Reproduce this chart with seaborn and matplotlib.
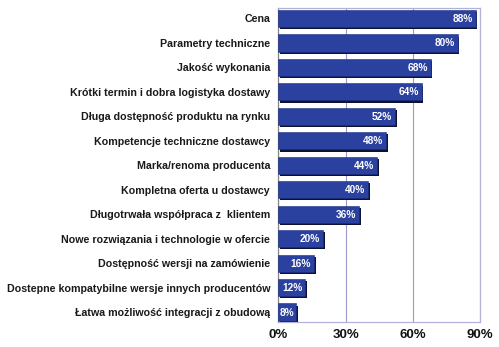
import matplotlib
matplotlib.use("Agg")
import matplotlib.pyplot as plt
import matplotlib.patheffects as pe
import seaborn as sns
import pandas as pd

categories = [
    "Cena",
    "Parametry techniczne",
    "Jakość wykonania",
    "Krótki termin i dobra logistyka dostawy",
    "Długa dostępność produktu na rynku",
    "Kompetencje techniczne dostawcy",
    "Marka/renoma producenta",
    "Kompletna oferta u dostawcy",
    "Długotrwała współpraca z  klientem",
    "Nowe rozwiązania i technologie w ofercie",
    "Dostępność wersji na zamówienie",
    "Dostepne kompatybilne wersje innych producentów",
    "Łatwa możliwość integracji z obudową",
]
values = [88, 80, 68, 64, 52, 48, 44, 40, 36, 20, 16, 12, 8]
x_ticks = [0, 30, 60, 90]
x_tick_labels = ["0%", "30%", "60%", "90%"]

df = pd.DataFrame({"kryterium": categories, "procent": values})

sns.set_theme(style="white")
plt.rcParams["font.family"] = ["Liberation Sans", "DejaVu Sans"]

fig = plt.figure(figsize=(4.99, 3.47), dpi=100)
ax = fig.add_axes([0.558, 0.072, 0.404, 0.905])

bar_color = "#2a41a0"
edge = "#b3b3d9"

sns.barplot(data=df, x="procent", y="kryterium", color=bar_color,
            saturation=1, width=0.7, ax=ax, zorder=3)

for p in ax.patches:
    p.set_edgecolor("#1c2d80")
    p.set_linewidth(0.4)
    p.set_path_effects([
        pe.SimplePatchShadow(offset=(1.2, -1.6), shadow_rgbFace="#0d1233", alpha=1.0),
        pe.Normal(),
    ])

for i, v in enumerate(values):
    if v < 10:
        ax.text(0.4, i + 0.05, f"{v}%", color="white", fontsize=7.3,
                fontweight="bold", ha="left", va="center", zorder=4)
    else:
        ax.text(v - 1.4, i + 0.02, f"{v}%", color="white", fontsize=7.3,
                fontweight="bold", ha="right", va="center", zorder=4)

ax.set_xlim(0, 90)
ax.set_ylim(len(categories) - 0.59, -0.43)
ax.set_xticks(x_ticks)
ax.set_xticklabels(x_tick_labels, fontsize=9.5, fontweight="bold", color="#111111")
ax.tick_params(axis="x", length=0, pad=5)
ax.tick_params(axis="y", length=0, pad=6)
for lbl in ax.get_yticklabels():
    lbl.set_fontsize(7.7)
    lbl.set_fontweight("bold")
    lbl.set_color("#1a1a1a")
ax.set_xlabel("")
ax.set_ylabel("")

ax.grid(axis="x", color="#9c9ccc", linewidth=0.8, zorder=0)
ax.set_axisbelow(True)
for side in ["top", "right", "bottom"]:
    ax.spines[side].set_color(edge)
    ax.spines[side].set_linewidth(0.9)
ax.spines["left"].set_color("#888888")
ax.spines["left"].set_linewidth(0.9)

fig.savefig("out.png", dpi=100)
